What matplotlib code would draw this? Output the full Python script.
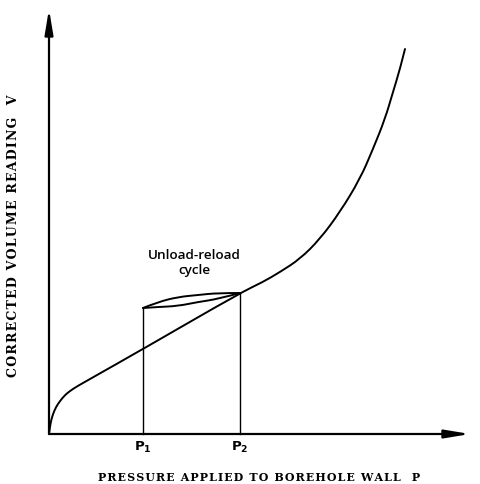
import numpy as np
import matplotlib
matplotlib.use("Agg")
import matplotlib.pyplot as plt
from matplotlib.path import Path
from matplotlib.patches import PathPatch

# Data (P = pressure, V = corrected volume), arbitrary units
p_curve = [0, 1, 2, 4, 7, 11, 16, 21, 27, 34, 41, 94, 191, 214, 231, 251, 271,
           291, 311, 324, 336, 344, 351, 356]
v_curve = [0, 7, 13, 20, 27, 33, 39, 43, 47, 51, 55, 85, 141, 152, 162, 175, 195,
           222, 255, 285, 315, 342, 365, 385]
p_unload_top = [94, 109, 129, 149, 169, 191]
v_unload_top = [126, 132, 137, 139, 141, 141]
p_unload_bot = [94, 109, 129, 149, 169, 191]
v_unload_bot = [126, 127, 128, 132, 135, 141]
p1, p2 = 94, 191
v_p1_top, v_p2_top = 126, 141
x_label = "PRESSURE APPLIED TO BOREHOLE WALL  P"
y_label = "CORRECTED VOLUME READING  V"
note = "Unload-reload\ncycle"


def smooth_path(xs, ys):
    """Quadratic Bezier through midpoints, using the given points as controls."""
    pts = list(zip(xs, ys))
    verts = [pts[0]]
    codes = [Path.MOVETO]
    if len(pts) == 2:
        verts.append(pts[1]); codes.append(Path.LINETO)
        return Path(verts, codes)
    for i in range(1, len(pts) - 1):
        ctrl = pts[i]
        if i < len(pts) - 2:
            end = ((pts[i][0] + pts[i + 1][0]) / 2, (pts[i][1] + pts[i + 1][1]) / 2)
        else:
            end = pts[i + 1]
        verts += [ctrl, end]
        codes += [Path.CURVE3, Path.CURVE3]
    return Path(verts, codes)


def spaced(s):
    return "\u200a".join(s)


fig = plt.figure(figsize=(4.8, 4.85), dpi=100)
ax = fig.add_axes([0, 0, 1, 1])
ax.set_xlim(-49, 431)
ax.set_ylim(-50, 435)
ax.axis("off")

lw = 1.4
for xs, ys in [(p_curve, v_curve), (p_unload_top, v_unload_top),
               (p_unload_bot, v_unload_bot)]:
    ax.add_patch(PathPatch(smooth_path(xs, ys), facecolor="none", edgecolor="black",
                           lw=lw, capstyle="round", joinstyle="round"))
ax.plot([p1, p1], [0, v_p1_top], color="black", lw=1.0)
ax.plot([p2, p2], [0, v_p2_top], color="black", lw=1.0)

# axes with arrows
ax.annotate("", xy=(0, 425), xytext=(0, 0),
            arrowprops=dict(arrowstyle="-|>,head_length=1.5,head_width=0.25",
                            color="black", lw=1.6, shrinkA=0, shrinkB=0))
ax.annotate("", xy=(421, 0), xytext=(0, 0),
            arrowprops=dict(arrowstyle="-|>,head_length=1.5,head_width=0.25",
                            color="black", lw=1.6, shrinkA=0, shrinkB=0))

ax.text(p1, -12, r"P$_\mathbf{1}$", ha="center", va="center", fontsize=9.5,
        fontweight="bold", family="DejaVu Sans")
ax.text(p2, -12, r"P$_\mathbf{2}$", ha="center", va="center", fontsize=9.5,
        fontweight="bold", family="DejaVu Sans")
ax.text(210, -43, spaced(x_label), ha="center", va="center", fontsize=7.9,
        fontweight="bold", family=["DejaVu Serif"])
ax.text(-35, 199, spaced(y_label), ha="center", va="center", rotation=90,
        fontsize=9.0, fontweight="bold", family=["DejaVu Serif"])
ax.text(145, 172, note, ha="center", va="center", fontsize=9.7,
        family="Open Sans", fontweight="semibold", linespacing=1.2)

fig.savefig("out.png", dpi=100)
